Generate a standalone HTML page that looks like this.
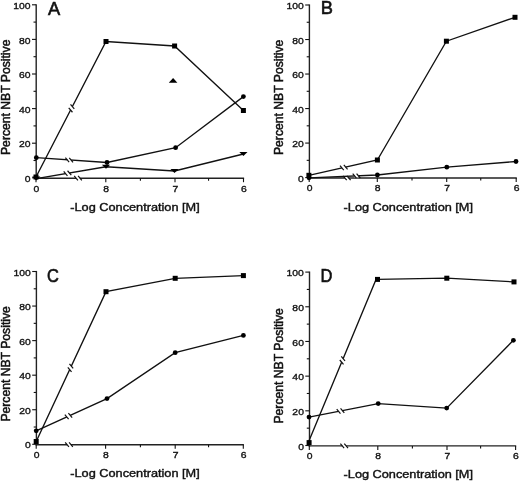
<!DOCTYPE html>
<html><head><meta charset="utf-8"><style>
html,body{margin:0;padding:0;background:#fff;}
svg{display:block;}
text{font-family:"Liberation Sans", sans-serif;fill:#111;stroke:#111;stroke-width:0.35px;}
.t{stroke-width:0.5px;}
.xt{stroke-width:0.4px;}
.L{stroke-width:0.6px;}
svg{will-change:transform;}
</style></head><body>
<svg width="520" height="481" viewBox="0 0 520 481">
<rect width="520" height="481" fill="#fff"/>
<line x1="36.20" y1="4.20" x2="36.20" y2="178.90" stroke="#222" stroke-width="1.4"/>
<line x1="32.00" y1="177.80" x2="36.00" y2="177.80" stroke="#111" stroke-width="1.1"/>
<text x="0" y="0" font-size="9.6" text-anchor="end" transform="translate(30.60 181.90) scale(1.08 1)">0</text>
<line x1="33.50" y1="160.50" x2="36.00" y2="160.50" stroke="#111" stroke-width="1.1"/>
<line x1="32.00" y1="143.20" x2="36.00" y2="143.20" stroke="#111" stroke-width="1.1"/>
<text x="0" y="0" font-size="9.6" text-anchor="end" transform="translate(30.60 147.30) scale(1.08 1)">20</text>
<line x1="33.50" y1="125.90" x2="36.00" y2="125.90" stroke="#111" stroke-width="1.1"/>
<line x1="32.00" y1="108.60" x2="36.00" y2="108.60" stroke="#111" stroke-width="1.1"/>
<text x="0" y="0" font-size="9.6" text-anchor="end" transform="translate(30.60 112.70) scale(1.08 1)">40</text>
<line x1="33.50" y1="91.30" x2="36.00" y2="91.30" stroke="#111" stroke-width="1.1"/>
<line x1="32.00" y1="74.00" x2="36.00" y2="74.00" stroke="#111" stroke-width="1.1"/>
<text x="0" y="0" font-size="9.6" text-anchor="end" transform="translate(30.60 78.10) scale(1.08 1)">60</text>
<line x1="33.50" y1="56.70" x2="36.00" y2="56.70" stroke="#111" stroke-width="1.1"/>
<line x1="32.00" y1="39.40" x2="36.00" y2="39.40" stroke="#111" stroke-width="1.1"/>
<text x="0" y="0" font-size="9.6" text-anchor="end" transform="translate(30.60 43.50) scale(1.08 1)">80</text>
<line x1="33.50" y1="22.10" x2="36.00" y2="22.10" stroke="#111" stroke-width="1.1"/>
<line x1="32.00" y1="4.80" x2="36.00" y2="4.80" stroke="#111" stroke-width="1.1"/>
<text x="0" y="0" font-size="9.6" text-anchor="end" transform="translate(30.60 8.90) scale(1.08 1)">100</text>
<line x1="35.40" y1="178.20" x2="244.10" y2="178.20" stroke="#222" stroke-width="1.4"/>
<line x1="36.00" y1="178.20" x2="36.00" y2="182.20" stroke="#111" stroke-width="1.1"/>
<text x="0" y="0" font-size="9.6" text-anchor="middle" transform="translate(36.40 191.50) scale(1.08 1)">0</text>
<line x1="105.80" y1="178.20" x2="105.80" y2="182.20" stroke="#111" stroke-width="1.1"/>
<text x="0" y="0" font-size="9.6" text-anchor="middle" transform="translate(106.20 191.50) scale(1.08 1)">8</text>
<line x1="175.00" y1="178.20" x2="175.00" y2="182.20" stroke="#111" stroke-width="1.1"/>
<text x="0" y="0" font-size="9.6" text-anchor="middle" transform="translate(175.40 191.50) scale(1.08 1)">7</text>
<line x1="243.50" y1="178.20" x2="243.50" y2="182.20" stroke="#111" stroke-width="1.1"/>
<text x="0" y="0" font-size="9.6" text-anchor="middle" transform="translate(243.90 191.50) scale(1.08 1)">6</text>
<line x1="140.40" y1="178.20" x2="140.40" y2="180.70" stroke="#111" stroke-width="1.1"/>
<line x1="208.55" y1="178.20" x2="208.55" y2="180.70" stroke="#111" stroke-width="1.1"/>
<line x1="76.05" y1="178.20" x2="79.95" y2="178.20" stroke="#fff" stroke-width="3"/>
<line x1="74.19" y1="175.98" x2="77.91" y2="180.42" stroke="#111" stroke-width="1.2"/>
<line x1="78.09" y1="175.98" x2="81.81" y2="180.42" stroke="#111" stroke-width="1.2"/>
<text x="135.00" y="211.00" font-size="11.6" text-anchor="middle" class="xt" textLength="129.4" lengthAdjust="spacingAndGlyphs">-Log Concentration [M]</text>
<text x="9.90" y="97.30" font-size="12" text-anchor="middle" transform="rotate(-90 9.90 97.30)" class="t" textLength="115.4" lengthAdjust="spacingAndGlyphs">Percent NBT Positive</text>
<text x="0" y="0" font-size="18.3" class="L" transform="translate(47.90 14.80) scale(1.0 1)">A</text>
<polyline points="36.00,177.00 106.00,41.50 174.60,46.00 243.40,110.50" fill="none" stroke="#111" stroke-width="1.35" stroke-linejoin="miter"/>
<polyline points="36.30,157.70 107.00,162.50 175.60,147.70 243.40,96.60" fill="none" stroke="#111" stroke-width="1.35" stroke-linejoin="miter"/>
<polyline points="36.20,178.60 106.00,166.80 174.50,171.00 243.40,154.00" fill="none" stroke="#111" stroke-width="1.35" stroke-linejoin="miter"/>
<line x1="70.60" y1="110.01" x2="72.40" y2="106.55" stroke="#fff" stroke-width="3"/>
<line x1="68.74" y1="107.79" x2="72.47" y2="112.24" stroke="#111" stroke-width="1.2"/>
<line x1="70.53" y1="104.33" x2="74.26" y2="108.77" stroke="#111" stroke-width="1.2"/>
<line x1="67.25" y1="159.80" x2="71.15" y2="160.07" stroke="#fff" stroke-width="3"/>
<line x1="65.39" y1="157.58" x2="69.12" y2="162.02" stroke="#111" stroke-width="1.2"/>
<line x1="69.28" y1="157.84" x2="73.01" y2="162.29" stroke="#111" stroke-width="1.2"/>
<line x1="65.58" y1="173.63" x2="69.42" y2="172.98" stroke="#fff" stroke-width="3"/>
<line x1="63.71" y1="171.41" x2="67.44" y2="175.86" stroke="#111" stroke-width="1.2"/>
<line x1="67.56" y1="170.76" x2="71.29" y2="175.21" stroke="#111" stroke-width="1.2"/>
<rect x="33.50" y="174.50" width="5.0" height="5.0" fill="#000"/>
<rect x="103.50" y="39.00" width="5.0" height="5.0" fill="#000"/>
<rect x="172.10" y="43.50" width="5.0" height="5.0" fill="#000"/>
<rect x="240.90" y="108.00" width="5.0" height="5.0" fill="#000"/>
<circle cx="36.30" cy="157.70" r="2.4" fill="#000"/>
<circle cx="107.00" cy="162.50" r="2.4" fill="#000"/>
<circle cx="175.60" cy="147.70" r="2.4" fill="#000"/>
<circle cx="243.40" cy="96.60" r="2.4" fill="#000"/>
<polygon points="32.10,176.60 40.30,176.60 36.20,180.60" fill="#000"/>
<polygon points="101.90,164.80 110.10,164.80 106.00,168.80" fill="#000"/>
<polygon points="170.40,169.00 178.60,169.00 174.50,173.00" fill="#000"/>
<polygon points="239.30,152.00 247.50,152.00 243.40,156.00" fill="#000"/>
<polygon points="168.80,82.65 177.40,82.65 173.10,77.95" fill="#000"/>
<line x1="309.40" y1="4.40" x2="309.40" y2="178.70" stroke="#222" stroke-width="1.4"/>
<line x1="305.20" y1="177.60" x2="309.20" y2="177.60" stroke="#111" stroke-width="1.1"/>
<text x="0" y="0" font-size="9.6" text-anchor="end" transform="translate(303.80 181.70) scale(1.08 1)">0</text>
<line x1="306.70" y1="160.34" x2="309.20" y2="160.34" stroke="#111" stroke-width="1.1"/>
<line x1="305.20" y1="143.08" x2="309.20" y2="143.08" stroke="#111" stroke-width="1.1"/>
<text x="0" y="0" font-size="9.6" text-anchor="end" transform="translate(303.80 147.18) scale(1.08 1)">20</text>
<line x1="306.70" y1="125.82" x2="309.20" y2="125.82" stroke="#111" stroke-width="1.1"/>
<line x1="305.20" y1="108.56" x2="309.20" y2="108.56" stroke="#111" stroke-width="1.1"/>
<text x="0" y="0" font-size="9.6" text-anchor="end" transform="translate(303.80 112.66) scale(1.08 1)">40</text>
<line x1="306.70" y1="91.30" x2="309.20" y2="91.30" stroke="#111" stroke-width="1.1"/>
<line x1="305.20" y1="74.04" x2="309.20" y2="74.04" stroke="#111" stroke-width="1.1"/>
<text x="0" y="0" font-size="9.6" text-anchor="end" transform="translate(303.80 78.14) scale(1.08 1)">60</text>
<line x1="306.70" y1="56.78" x2="309.20" y2="56.78" stroke="#111" stroke-width="1.1"/>
<line x1="305.20" y1="39.52" x2="309.20" y2="39.52" stroke="#111" stroke-width="1.1"/>
<text x="0" y="0" font-size="9.6" text-anchor="end" transform="translate(303.80 43.62) scale(1.08 1)">80</text>
<line x1="306.70" y1="22.26" x2="309.20" y2="22.26" stroke="#111" stroke-width="1.1"/>
<line x1="305.20" y1="5.00" x2="309.20" y2="5.00" stroke="#111" stroke-width="1.1"/>
<text x="0" y="0" font-size="9.6" text-anchor="end" transform="translate(303.80 9.10) scale(1.08 1)">100</text>
<line x1="308.60" y1="178.00" x2="516.80" y2="178.00" stroke="#222" stroke-width="1.4"/>
<line x1="309.20" y1="178.00" x2="309.20" y2="182.00" stroke="#111" stroke-width="1.1"/>
<text x="0" y="0" font-size="9.6" text-anchor="middle" transform="translate(309.60 191.30) scale(1.08 1)">0</text>
<line x1="377.30" y1="178.00" x2="377.30" y2="182.00" stroke="#111" stroke-width="1.1"/>
<text x="0" y="0" font-size="9.6" text-anchor="middle" transform="translate(377.70 191.30) scale(1.08 1)">8</text>
<line x1="446.70" y1="178.00" x2="446.70" y2="182.00" stroke="#111" stroke-width="1.1"/>
<text x="0" y="0" font-size="9.6" text-anchor="middle" transform="translate(447.10 191.30) scale(1.08 1)">7</text>
<line x1="516.20" y1="178.00" x2="516.20" y2="182.00" stroke="#111" stroke-width="1.1"/>
<text x="0" y="0" font-size="9.6" text-anchor="middle" transform="translate(516.60 191.30) scale(1.08 1)">6</text>
<line x1="412.00" y1="178.00" x2="412.00" y2="180.50" stroke="#111" stroke-width="1.1"/>
<line x1="480.75" y1="178.00" x2="480.75" y2="180.50" stroke="#111" stroke-width="1.1"/>
<line x1="344.85" y1="178.00" x2="348.75" y2="178.00" stroke="#fff" stroke-width="3"/>
<line x1="342.99" y1="175.78" x2="346.71" y2="180.22" stroke="#111" stroke-width="1.2"/>
<line x1="346.89" y1="175.78" x2="350.61" y2="180.22" stroke="#111" stroke-width="1.2"/>
<text x="408.30" y="210.80" font-size="11.6" text-anchor="middle" class="xt" textLength="129.4" lengthAdjust="spacingAndGlyphs">-Log Concentration [M]</text>
<text x="283.30" y="97.30" font-size="12" text-anchor="middle" transform="rotate(-90 283.30 97.30)" class="t" textLength="115.4" lengthAdjust="spacingAndGlyphs">Percent NBT Positive</text>
<text x="0" y="0" font-size="18.3" class="L" transform="translate(320.80 13.80) scale(1.0 1)">B</text>
<polyline points="308.90,175.30 377.40,160.00 446.40,41.20 515.00,17.30" fill="none" stroke="#111" stroke-width="1.35" stroke-linejoin="miter"/>
<polyline points="309.00,177.80 377.40,175.00 446.80,167.20 516.00,161.50" fill="none" stroke="#111" stroke-width="1.35" stroke-linejoin="miter"/>
<line x1="341.90" y1="167.93" x2="345.70" y2="167.08" stroke="#fff" stroke-width="3"/>
<line x1="340.03" y1="165.71" x2="343.76" y2="170.15" stroke="#111" stroke-width="1.2"/>
<line x1="343.84" y1="164.86" x2="347.57" y2="169.30" stroke="#111" stroke-width="1.2"/>
<line x1="354.55" y1="175.94" x2="358.45" y2="175.78" stroke="#fff" stroke-width="3"/>
<line x1="352.69" y1="173.71" x2="356.42" y2="178.16" stroke="#111" stroke-width="1.2"/>
<line x1="356.58" y1="173.55" x2="360.31" y2="178.00" stroke="#111" stroke-width="1.2"/>
<rect x="306.40" y="172.80" width="5.0" height="5.0" fill="#000"/>
<rect x="374.90" y="157.50" width="5.0" height="5.0" fill="#000"/>
<rect x="443.90" y="38.70" width="5.0" height="5.0" fill="#000"/>
<rect x="512.50" y="14.80" width="5.0" height="5.0" fill="#000"/>
<circle cx="309.00" cy="177.80" r="2.4" fill="#000"/>
<circle cx="377.40" cy="175.00" r="2.4" fill="#000"/>
<circle cx="446.80" cy="167.20" r="2.4" fill="#000"/>
<circle cx="516.00" cy="161.50" r="2.4" fill="#000"/>
<line x1="36.40" y1="270.90" x2="36.40" y2="445.40" stroke="#222" stroke-width="1.4"/>
<line x1="32.20" y1="444.30" x2="36.20" y2="444.30" stroke="#111" stroke-width="1.1"/>
<text x="0" y="0" font-size="9.6" text-anchor="end" transform="translate(30.80 448.40) scale(1.08 1)">0</text>
<line x1="33.70" y1="427.02" x2="36.20" y2="427.02" stroke="#111" stroke-width="1.1"/>
<line x1="32.20" y1="409.74" x2="36.20" y2="409.74" stroke="#111" stroke-width="1.1"/>
<text x="0" y="0" font-size="9.6" text-anchor="end" transform="translate(30.80 413.84) scale(1.08 1)">20</text>
<line x1="33.70" y1="392.46" x2="36.20" y2="392.46" stroke="#111" stroke-width="1.1"/>
<line x1="32.20" y1="375.18" x2="36.20" y2="375.18" stroke="#111" stroke-width="1.1"/>
<text x="0" y="0" font-size="9.6" text-anchor="end" transform="translate(30.80 379.28) scale(1.08 1)">40</text>
<line x1="33.70" y1="357.90" x2="36.20" y2="357.90" stroke="#111" stroke-width="1.1"/>
<line x1="32.20" y1="340.62" x2="36.20" y2="340.62" stroke="#111" stroke-width="1.1"/>
<text x="0" y="0" font-size="9.6" text-anchor="end" transform="translate(30.80 344.72) scale(1.08 1)">60</text>
<line x1="33.70" y1="323.34" x2="36.20" y2="323.34" stroke="#111" stroke-width="1.1"/>
<line x1="32.20" y1="306.06" x2="36.20" y2="306.06" stroke="#111" stroke-width="1.1"/>
<text x="0" y="0" font-size="9.6" text-anchor="end" transform="translate(30.80 310.16) scale(1.08 1)">80</text>
<line x1="33.70" y1="288.78" x2="36.20" y2="288.78" stroke="#111" stroke-width="1.1"/>
<line x1="32.20" y1="271.50" x2="36.20" y2="271.50" stroke="#111" stroke-width="1.1"/>
<text x="0" y="0" font-size="9.6" text-anchor="end" transform="translate(30.80 275.60) scale(1.08 1)">100</text>
<line x1="35.60" y1="444.70" x2="243.90" y2="444.70" stroke="#222" stroke-width="1.4"/>
<line x1="36.20" y1="444.70" x2="36.20" y2="448.70" stroke="#111" stroke-width="1.1"/>
<text x="0" y="0" font-size="9.6" text-anchor="middle" transform="translate(36.60 458.00) scale(1.08 1)">0</text>
<line x1="105.60" y1="444.70" x2="105.60" y2="448.70" stroke="#111" stroke-width="1.1"/>
<text x="0" y="0" font-size="9.6" text-anchor="middle" transform="translate(106.00 458.00) scale(1.08 1)">8</text>
<line x1="175.20" y1="444.70" x2="175.20" y2="448.70" stroke="#111" stroke-width="1.1"/>
<text x="0" y="0" font-size="9.6" text-anchor="middle" transform="translate(175.60 458.00) scale(1.08 1)">7</text>
<line x1="243.30" y1="444.70" x2="243.30" y2="448.70" stroke="#111" stroke-width="1.1"/>
<text x="0" y="0" font-size="9.6" text-anchor="middle" transform="translate(243.70 458.00) scale(1.08 1)">6</text>
<line x1="140.40" y1="444.70" x2="140.40" y2="447.20" stroke="#111" stroke-width="1.1"/>
<line x1="208.55" y1="444.70" x2="208.55" y2="447.20" stroke="#111" stroke-width="1.1"/>
<line x1="67.05" y1="444.70" x2="70.95" y2="444.70" stroke="#fff" stroke-width="3"/>
<line x1="65.19" y1="442.48" x2="68.91" y2="446.92" stroke="#111" stroke-width="1.2"/>
<line x1="69.09" y1="442.48" x2="72.81" y2="446.92" stroke="#111" stroke-width="1.2"/>
<text x="135.00" y="476.70" font-size="11.6" text-anchor="middle" class="xt" textLength="129.4" lengthAdjust="spacingAndGlyphs">-Log Concentration [M]</text>
<text x="10.00" y="363.90" font-size="12" text-anchor="middle" transform="rotate(-90 10.00 363.90)" class="t" textLength="115.4" lengthAdjust="spacingAndGlyphs">Percent NBT Positive</text>
<text x="0" y="0" font-size="18.3" class="L" transform="translate(47.00 281.50) scale(0.9 1)">C</text>
<polyline points="36.20,441.50 106.00,291.70 175.20,278.30 243.40,275.60" fill="none" stroke="#111" stroke-width="1.35" stroke-linejoin="miter"/>
<polyline points="36.20,430.80 107.00,398.60 175.20,352.70 243.40,335.40" fill="none" stroke="#111" stroke-width="1.35" stroke-linejoin="miter"/>
<line x1="69.68" y1="369.66" x2="71.32" y2="366.12" stroke="#fff" stroke-width="3"/>
<line x1="67.81" y1="367.43" x2="71.54" y2="371.88" stroke="#111" stroke-width="1.2"/>
<line x1="69.46" y1="363.90" x2="73.19" y2="368.34" stroke="#111" stroke-width="1.2"/>
<line x1="66.72" y1="416.92" x2="70.28" y2="415.30" stroke="#fff" stroke-width="3"/>
<line x1="64.86" y1="414.70" x2="68.59" y2="419.14" stroke="#111" stroke-width="1.2"/>
<line x1="68.41" y1="413.08" x2="72.14" y2="417.52" stroke="#111" stroke-width="1.2"/>
<rect x="33.70" y="439.00" width="5.0" height="5.0" fill="#000"/>
<rect x="103.50" y="289.20" width="5.0" height="5.0" fill="#000"/>
<rect x="172.70" y="275.80" width="5.0" height="5.0" fill="#000"/>
<rect x="240.90" y="273.10" width="5.0" height="5.0" fill="#000"/>
<circle cx="36.20" cy="430.80" r="2.4" fill="#000"/>
<circle cx="107.00" cy="398.60" r="2.4" fill="#000"/>
<circle cx="175.20" cy="352.70" r="2.4" fill="#000"/>
<circle cx="243.40" cy="335.40" r="2.4" fill="#000"/>
<line x1="309.50" y1="271.50" x2="309.50" y2="446.60" stroke="#222" stroke-width="1.4"/>
<line x1="305.30" y1="445.50" x2="309.30" y2="445.50" stroke="#111" stroke-width="1.1"/>
<text x="0" y="0" font-size="9.6" text-anchor="end" transform="translate(303.90 449.60) scale(1.08 1)">0</text>
<line x1="306.80" y1="428.16" x2="309.30" y2="428.16" stroke="#111" stroke-width="1.1"/>
<line x1="305.30" y1="410.82" x2="309.30" y2="410.82" stroke="#111" stroke-width="1.1"/>
<text x="0" y="0" font-size="9.6" text-anchor="end" transform="translate(303.90 414.92) scale(1.08 1)">20</text>
<line x1="306.80" y1="393.48" x2="309.30" y2="393.48" stroke="#111" stroke-width="1.1"/>
<line x1="305.30" y1="376.14" x2="309.30" y2="376.14" stroke="#111" stroke-width="1.1"/>
<text x="0" y="0" font-size="9.6" text-anchor="end" transform="translate(303.90 380.24) scale(1.08 1)">40</text>
<line x1="306.80" y1="358.80" x2="309.30" y2="358.80" stroke="#111" stroke-width="1.1"/>
<line x1="305.30" y1="341.46" x2="309.30" y2="341.46" stroke="#111" stroke-width="1.1"/>
<text x="0" y="0" font-size="9.6" text-anchor="end" transform="translate(303.90 345.56) scale(1.08 1)">60</text>
<line x1="306.80" y1="324.12" x2="309.30" y2="324.12" stroke="#111" stroke-width="1.1"/>
<line x1="305.30" y1="306.78" x2="309.30" y2="306.78" stroke="#111" stroke-width="1.1"/>
<text x="0" y="0" font-size="9.6" text-anchor="end" transform="translate(303.90 310.88) scale(1.08 1)">80</text>
<line x1="306.80" y1="289.44" x2="309.30" y2="289.44" stroke="#111" stroke-width="1.1"/>
<line x1="305.30" y1="272.10" x2="309.30" y2="272.10" stroke="#111" stroke-width="1.1"/>
<text x="0" y="0" font-size="9.6" text-anchor="end" transform="translate(303.90 276.20) scale(1.08 1)">100</text>
<line x1="308.70" y1="445.90" x2="516.20" y2="445.90" stroke="#222" stroke-width="1.4"/>
<line x1="309.30" y1="445.90" x2="309.30" y2="449.90" stroke="#111" stroke-width="1.1"/>
<text x="0" y="0" font-size="9.6" text-anchor="middle" transform="translate(309.70 459.20) scale(1.08 1)">0</text>
<line x1="377.80" y1="445.90" x2="377.80" y2="449.90" stroke="#111" stroke-width="1.1"/>
<text x="0" y="0" font-size="9.6" text-anchor="middle" transform="translate(378.20 459.20) scale(1.08 1)">8</text>
<line x1="447.00" y1="445.90" x2="447.00" y2="449.90" stroke="#111" stroke-width="1.1"/>
<text x="0" y="0" font-size="9.6" text-anchor="middle" transform="translate(447.40 459.20) scale(1.08 1)">7</text>
<line x1="515.60" y1="445.90" x2="515.60" y2="449.90" stroke="#111" stroke-width="1.1"/>
<text x="0" y="0" font-size="9.6" text-anchor="middle" transform="translate(516.00 459.20) scale(1.08 1)">6</text>
<line x1="412.40" y1="445.90" x2="412.40" y2="448.40" stroke="#111" stroke-width="1.1"/>
<line x1="480.60" y1="445.90" x2="480.60" y2="448.40" stroke="#111" stroke-width="1.1"/>
<line x1="342.25" y1="445.90" x2="346.15" y2="445.90" stroke="#fff" stroke-width="3"/>
<line x1="340.39" y1="443.68" x2="344.11" y2="448.12" stroke="#111" stroke-width="1.2"/>
<line x1="344.29" y1="443.68" x2="348.01" y2="448.12" stroke="#111" stroke-width="1.2"/>
<text x="408.30" y="477.60" font-size="11.6" text-anchor="middle" class="xt" textLength="129.4" lengthAdjust="spacingAndGlyphs">-Log Concentration [M]</text>
<text x="283.30" y="365.80" font-size="12" text-anchor="middle" transform="rotate(-90 283.30 365.80)" class="t" textLength="115.4" lengthAdjust="spacingAndGlyphs">Percent NBT Positive</text>
<text x="0" y="0" font-size="18.3" class="L" transform="translate(320.50 281.80) scale(0.9 1)">D</text>
<polyline points="308.30,442.50 375.60,280.50 377.50,279.40 446.80,278.20 514.00,281.90" fill="none" stroke="#111" stroke-width="1.35" stroke-linejoin="miter"/>
<polyline points="309.00,417.10 378.20,403.60 446.70,408.10 513.40,340.30" fill="none" stroke="#111" stroke-width="1.35" stroke-linejoin="miter"/>
<line x1="341.65" y1="362.22" x2="343.15" y2="358.62" stroke="#fff" stroke-width="3"/>
<line x1="339.79" y1="360.00" x2="343.52" y2="364.44" stroke="#111" stroke-width="1.2"/>
<line x1="341.28" y1="356.39" x2="345.01" y2="360.84" stroke="#111" stroke-width="1.2"/>
<line x1="338.59" y1="411.33" x2="342.41" y2="410.58" stroke="#fff" stroke-width="3"/>
<line x1="336.72" y1="409.11" x2="340.45" y2="413.55" stroke="#111" stroke-width="1.2"/>
<line x1="340.55" y1="408.36" x2="344.28" y2="412.80" stroke="#111" stroke-width="1.2"/>
<rect x="306.60" y="440.10" width="5.0" height="5.0" fill="#000"/>
<rect x="375.00" y="276.90" width="5.0" height="5.0" fill="#000"/>
<rect x="444.30" y="275.70" width="5.0" height="5.0" fill="#000"/>
<rect x="511.50" y="279.40" width="5.0" height="5.0" fill="#000"/>
<circle cx="309.00" cy="417.10" r="2.4" fill="#000"/>
<circle cx="378.20" cy="403.60" r="2.4" fill="#000"/>
<circle cx="446.70" cy="408.10" r="2.4" fill="#000"/>
<circle cx="513.40" cy="340.30" r="2.4" fill="#000"/>
</svg>
</body></html>
